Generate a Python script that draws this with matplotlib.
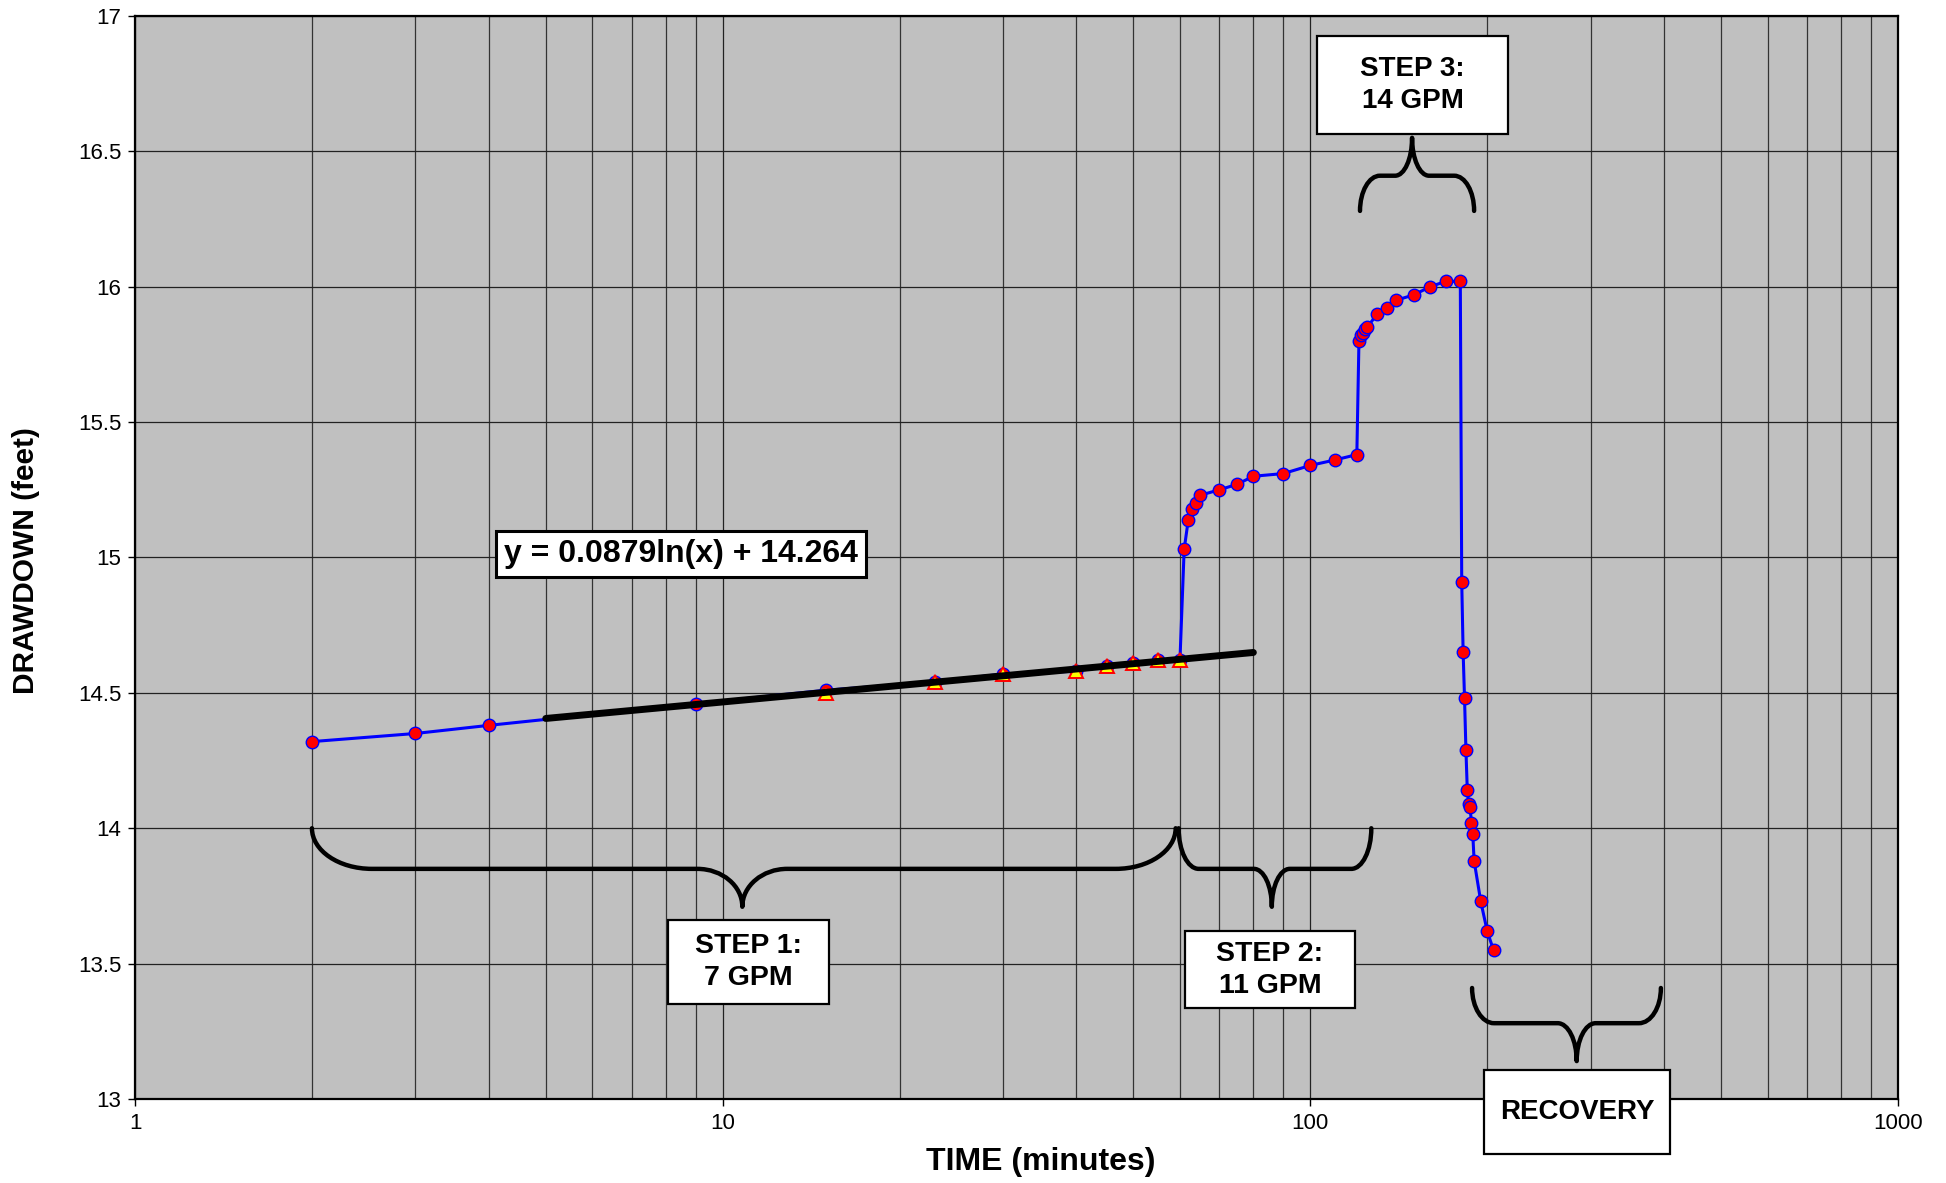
import numpy as np
import matplotlib
matplotlib.use("Agg")
import matplotlib.pyplot as plt
from matplotlib.path import Path
from matplotlib.patches import PathPatch, Rectangle
from matplotlib.transforms import IdentityTransform
from matplotlib.ticker import FixedLocator, FuncFormatter, LogLocator, NullFormatter

plt.rcParams['font.family'] = ['Liberation Sans', 'DejaVu Sans']

# step-drawdown test readings (minutes, feet)
time_min = [2, 3, 4, 9, 15, 23, 30, 40, 45, 50, 55, 60,
            61, 62, 63, 64, 65, 70, 75, 80, 90, 100, 110, 120,
            121, 122, 123, 124, 125, 130, 135, 140, 150, 160, 170, 180,
            181, 182, 183, 184, 185, 186, 187, 188, 189, 190, 195, 200, 205]
drawdown_ft = [14.32, 14.35, 14.38, 14.46, 14.51, 14.54, 14.57, 14.58, 14.60, 14.61, 14.62, 14.62,
               15.03, 15.14, 15.18, 15.20, 15.23, 15.25, 15.27, 15.30, 15.31, 15.34, 15.36, 15.38,
               15.80, 15.82, 15.83, 15.845, 15.85, 15.90, 15.92, 15.95, 15.97, 16.00, 16.02, 16.02,
               14.91, 14.65, 14.48, 14.29, 14.14, 14.09, 14.08, 14.02, 13.98, 13.88, 13.73, 13.62, 13.55]

# points used for the step 1 log fit
fit_time = [15, 23, 30, 40, 45, 50, 55, 60]
fit_drawdown = [14.50, 14.54, 14.57, 14.58, 14.60, 14.61, 14.62, 14.62]
fit_slope = 0.0879
fit_icpt = 14.264
fit_span = (5, 80)

x_ticks = [1, 10, 100, 1000]
y_ticks = [13, 13.5, 14, 14.5, 15, 15.5, 16, 16.5, 17]

fig = plt.figure(figsize=(19.46, 11.83), dpi=100)
ax = fig.add_axes([0.0694, 0.0710, 0.9059, 0.9155])
ax.set_facecolor('#c0c0c0')

ax.set_xscale('log')
ax.set_xlim(1, 1000)
ax.set_ylim(13, 17)

ax.plot(time_min, drawdown_ft, color='#0000ff', lw=2.2, marker='o', ms=9,
        mfc='#ff0000', mec='#0000ff', mew=1.0, zorder=3)
ax.plot(fit_time, fit_drawdown, ls='none', marker='^', ms=10.5,
        mfc='#ffff00', mec='#ff0000', mew=1.4, zorder=4)

xf = np.geomspace(fit_span[0], fit_span[1], 60)
ax.plot(xf, fit_slope * np.log(xf) + fit_icpt, color='black', lw=5,
        solid_capstyle='round', zorder=5)

# axes, grid, ticks
ax.xaxis.set_major_locator(FixedLocator(x_ticks))
ax.xaxis.set_major_formatter(FuncFormatter(lambda v, p: '%g' % v))
ax.xaxis.set_minor_locator(LogLocator(base=10, subs=np.arange(2, 10)))
ax.xaxis.set_minor_formatter(NullFormatter())
ax.yaxis.set_major_locator(FixedLocator(y_ticks))
ax.yaxis.set_major_formatter(FuncFormatter(lambda v, p: '%g' % v))
ax.grid(True, which='major', color='#222222', lw=0.9)
ax.grid(True, which='minor', axis='x', color='#333333', lw=0.9)
ax.set_axisbelow(True)
ax.tick_params(which='major', direction='out', length=5, width=1, labelsize=16, pad=5)
ax.tick_params(which='minor', length=0)
for s in ax.spines.values():
    s.set_linewidth(1.6)
    s.set_color('black')

ax.set_xlabel('TIME (minutes)', fontsize=23, fontweight='bold')
ax.xaxis.set_label_coords(0.514, -0.044)
ax.set_ylabel('DRAWDOWN (feet)', fontsize=21.5, fontweight='bold')
ax.yaxis.set_label_coords(-0.054, 0.497)


# curly braces: ends at (x0, y0) and (x1, y0), bar at y1, tip at (xt, y2)
def brace(x0, x1, xt, y0, y1, y2, r, rt):
    T = ax.transData
    X0, Y0 = T.transform((x0, y0))
    X1, _ = T.transform((x1, y0))
    Xt, Y1 = T.transform((xt, y1))
    _, Y2 = T.transform((xt, y2))
    k = 0.552
    verts = [(X0, Y0),
             (X0, Y0 + k * (Y1 - Y0)), (X0 + (1 - k) * r, Y1), (X0 + r, Y1),
             (Xt - rt, Y1),
             (Xt - rt + k * rt, Y1), (Xt, Y2 + k * (Y1 - Y2)), (Xt, Y2),
             (Xt, Y2 + k * (Y1 - Y2)), (Xt + rt - k * rt, Y1), (Xt + rt, Y1),
             (X1 - r, Y1),
             (X1 - (1 - k) * r, Y1), (X1, Y0 + k * (Y1 - Y0)), (X1, Y0)]
    codes = ([Path.MOVETO] + [Path.CURVE4] * 3 + [Path.LINETO] + [Path.CURVE4] * 6
             + [Path.LINETO] + [Path.CURVE4] * 3)
    p = PathPatch(Path(verts, codes), fill=False, lw=3.2, ec='black',
                  capstyle='round', joinstyle='round', zorder=6)
    p.set_transform(IdentityTransform())
    p.set_clip_on(False)
    fig.add_artist(p)


brace(2, 59, 10.8, 14.0, 13.85, 13.71, 60, 45)
brace(59.7, 127, 86, 14.0, 13.85, 13.71, 20, 18)
brace(121.5, 190, 149, 16.28, 16.41, 16.55, 20, 17)
brace(188.5, 395, 284, 13.41, 13.28, 13.14, 22, 19)


def label_box(x0, y0, w, h, text, size, lw=1.6):
    ax.add_patch(Rectangle((x0, y0), w, h, transform=ax.transAxes, fc='white',
                           ec='black', lw=lw, clip_on=False, zorder=10))
    ax.text(x0 + w / 2, y0 + h / 2, text, transform=ax.transAxes, ha='center',
            va='center', fontsize=size, fontweight='bold', linespacing=1.3,
            zorder=11)


label_box(0.2048, 0.482, 0.2099, 0.0425, 'y = 0.0879ln(x) + 14.264', 23, lw=2.2)
label_box(0.3023, 0.0877, 0.0913, 0.0776, 'STEP 1:\n7 GPM', 20.5)
label_box(0.5956, 0.0840, 0.0964, 0.0711, 'STEP 2:\n11 GPM', 20.5)
label_box(0.6705, 0.8910, 0.1083, 0.0905, 'STEP 3:\n14 GPM', 20)
label_box(0.7652, -0.0508, 0.1055, 0.0776, 'RECOVERY', 20)

fig.savefig('out.png', dpi=100)
